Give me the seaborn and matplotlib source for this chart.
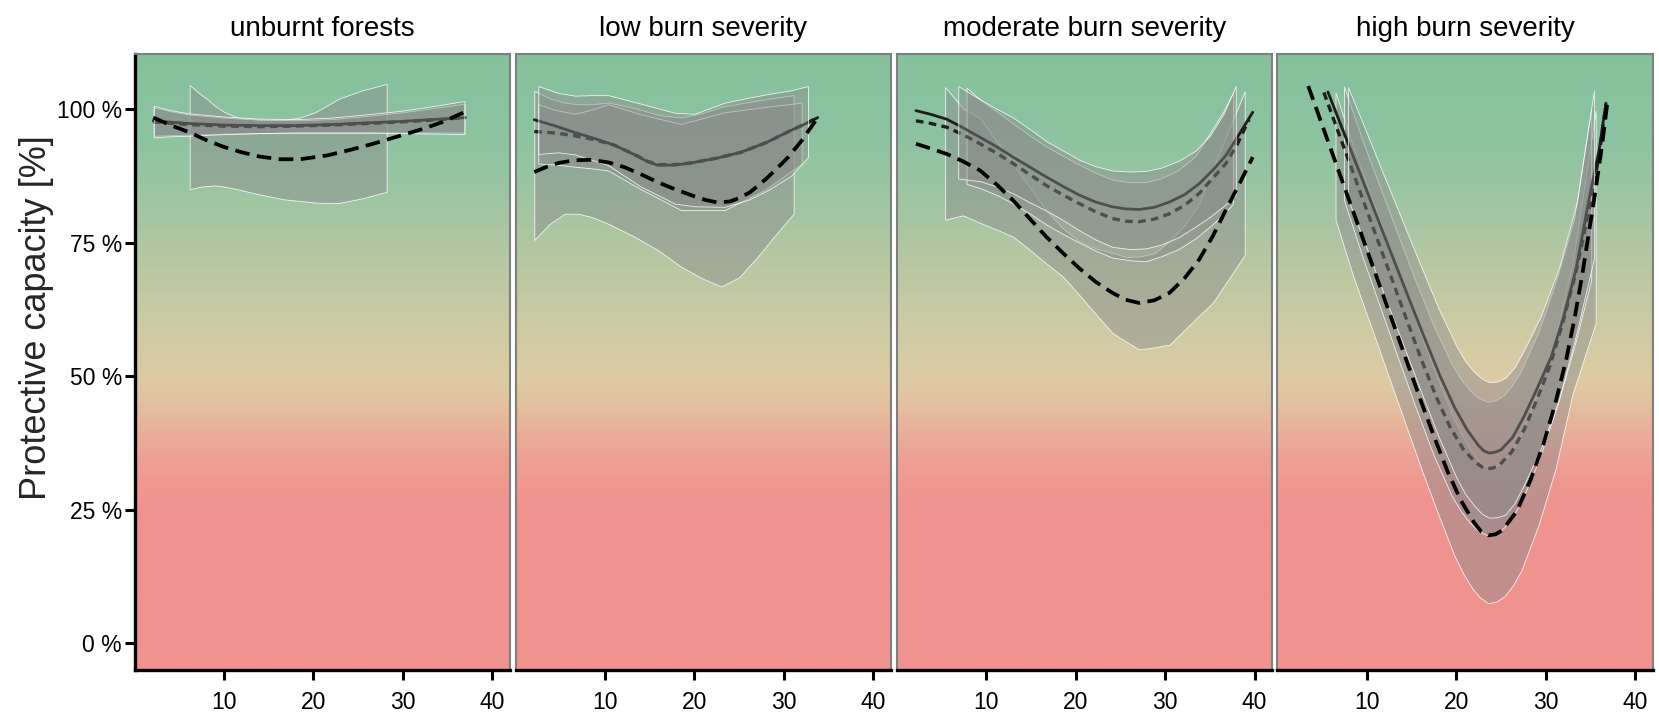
import numpy as np
import pandas as pd
import matplotlib
matplotlib.use("Agg")
import matplotlib.pyplot as plt
import seaborn as sns
from matplotlib.colors import LinearSegmentedColormap

# ---------------- data ----------------
titles = ["unburnt forests", "low burn severity", "moderate burn severity", "high burn severity"]
y_ticks = [0, 25, 50, 75, 100]
y_tick_labels = ["0 %", "25 %", "50 %", "75 %", "100 %"]
x_ticks = [10, 20, 30, 40]
y_label = "Protective capacity [%]"

# unburnt forests
unb_solid_x = [2.1, 6, 10, 14, 18, 22, 26, 30, 34, 37.0]
unb_solid_y = [97.8, 97.3, 97.0, 96.9, 96.9, 97.1, 97.4, 97.7, 98.1, 98.4]
unb_dot_x = [2.1, 6, 10, 14, 18, 22, 26, 30, 34, 37.0]
unb_dot_y = [97.6, 97.1, 96.8, 96.7, 96.8, 97.0, 97.3, 97.6, 98.0, 98.4]
unb_dash_x = [2.1, 4, 6.2, 8, 10, 12, 14, 16.3, 18.5, 21.5, 24, 26.7, 29.5, 32.3, 34.5, 37.0]
unb_dash_y = [98.4, 97.0, 95.6, 94.2, 92.9, 91.9, 91.1, 90.6, 90.6, 91.3, 92.3, 93.5, 94.9, 96.3, 97.6, 99.5]
unb_rib_solid_x = [2.15, 4, 6, 10, 14, 18, 22, 26, 30, 34, 36.9]
unb_rib_solid_lo = [94.7, 94.9, 95.0, 95.3, 95.5, 95.6, 95.6, 95.6, 95.5, 95.4, 95.3]
unb_rib_solid_hi = [100.6, 99.8, 99.2, 98.6, 98.2, 98.1, 98.4, 99.0, 99.7, 100.7, 101.5]
unb_rib_dot_x = [2.15, 4, 6, 10, 14, 18, 22, 26, 30, 34, 36.9]
unb_rib_dot_lo = [95.0, 95.1, 95.2, 95.4, 95.5, 95.6, 95.6, 95.6, 95.6, 95.6, 95.6]
unb_rib_dot_hi = [100.3, 99.6, 99.0, 98.4, 98.0, 97.9, 98.1, 98.7, 99.4, 100.3, 101.0]
unb_rib_dash_x = [6.17, 7.2, 8.1, 9.0, 10, 11.5, 14, 16.7, 18.5, 20.2, 21.5, 22.8, 25.5, 28.2]
unb_rib_dash_lo = [85.0, 85.4, 85.6, 85.7, 85.5, 85.0, 84.0, 83.1, 82.8, 82.5, 82.4, 82.4, 83.3, 84.5]
unb_rib_dash_hi = [104.5, 103.0, 101.9, 100.6, 99.5, 98.4, 98.0, 97.9, 98.4, 99.4, 100.6, 101.9, 103.5, 104.7]

# low burn severity
low_solid_x = [2.09, 4.5, 6.63, 9, 11.1, 13.5, 14.8, 15.9, 17.8, 19.6, 22.5, 25.2, 28, 30.8, 32.5, 33.8]
low_solid_y = [98.0, 96.8, 95.6, 94.4, 93.2, 91.3, 90.1, 89.5, 89.5, 89.9, 90.8, 91.9, 93.7, 96.0, 97.3, 98.4]
low_dot_x = [2.09, 4.5, 6.63, 9, 11.1, 13.5, 14.8, 15.9, 17.8, 19.6, 22.5, 25.2, 28, 30.8, 32.5, 33.8]
low_dot_y = [95.8, 95.5, 95.0, 94.2, 93.2, 91.3, 90.2, 89.6, 89.6, 89.9, 90.8, 91.9, 93.7, 96.0, 97.3, 98.4]
low_dash_x = [2.09, 3.5, 4.8, 6.5, 8.5, 10.4, 12.2, 14.0, 15.9, 17.8, 19.6, 21.2, 22.6, 24.0, 25.2, 26.2, 27, 28, 29, 30.5, 32, 33.8]
low_dash_y = [88.2, 89.2, 89.9, 90.4, 90.5, 90.0, 89.1, 87.8, 86.3, 85.0, 83.9, 83.0, 82.5, 82.7, 83.5, 84.4, 85.5, 86.9, 88.5, 91.0, 94.1, 98.4]
low_rib_solid_x = [2.54, 4.77, 6.63, 8.5, 10.35, 14, 17.8, 20, 23.4, 26, 28.2, 30.8, 32.7]
low_rib_solid_lo = [91.6, 91.9, 91.5, 90.5, 89.5, 85.5, 82.3, 81.8, 81.7, 83.0, 84.8, 87.5, 91.0]
low_rib_solid_hi = [104.3, 103.0, 102.5, 102.6, 102.6, 101.0, 99.3, 99.1, 101.2, 102.1, 102.8, 103.5, 104.3]
low_rib_dot_x = [2.54, 4.5, 6.63, 8.5, 10.35, 14, 18.5, 23.4, 28, 32.0]
low_rib_dot_lo = [89.8, 89.6, 89.2, 88.9, 88.5, 85.0, 81.1, 81.1, 85.0, 89.8]
low_rib_dot_hi = [100.9, 99.8, 99.1, 99.9, 100.9, 99.0, 97.2, 99.4, 100.4, 101.2]
low_rib_dash_x = [2.09, 3.8, 5.5, 7.0, 8.5, 10.4, 13.3, 16, 18.5, 21, 23.0, 25, 27.1, 29, 31.1]
low_rib_dash_lo = [75.5, 78.5, 80.4, 80.4, 79.8, 78.5, 76.1, 73.5, 70.5, 68.2, 66.8, 68.5, 72.4, 76.3, 80.4]
low_rib_dash_hi = [103.4, 102.0, 101.2, 100.9, 100.9, 101.2, 100.2, 98.9, 98.4, 99.3, 100.4, 101.0, 101.6, 102.1, 102.6]

# moderate burn severity
mod_solid_x = [2.13, 3.8, 5.56, 7.4, 9.3, 11.2, 13.0, 14.9, 16.7, 18.6, 20.4, 22.2, 24.1, 25.6, 27.1, 28.8, 30.5, 32.2, 33.8, 35.3, 36.8, 38.3, 39.8]
mod_solid_y = [99.7, 99.0, 98.1, 96.5, 94.7, 92.9, 91.0, 89.1, 87.3, 85.5, 83.9, 82.6, 81.7, 81.3, 81.2, 81.6, 82.6, 84.0, 86.0, 88.5, 91.3, 95.3, 99.4]
mod_dot_x = [2.13, 3.8, 5.56, 7.4, 9.3, 11.2, 13.0, 14.9, 16.7, 18.6, 20.4, 22.2, 24.1, 25.6, 27.1, 28.8, 30.5, 32.2, 33.8, 35.3, 36.8, 38.1, 39.4]
mod_dot_y = [97.8, 97.3, 96.6, 95.2, 93.5, 91.7, 89.8, 87.7, 85.7, 83.9, 82.3, 80.8, 79.5, 79.0, 78.9, 79.4, 80.4, 82.0, 84.2, 87.0, 89.8, 93.5, 98.1]
mod_dash_x = [2.13, 3.8, 5.56, 7.4, 9.3, 11.2, 13.0, 14.9, 16.7, 18.6, 20.4, 22.2, 24.1, 25.6, 27.1, 28.8, 30.5, 32.2, 33.8, 35.3, 36.8, 38.3, 39.8]
mod_dash_y = [93.5, 92.6, 91.6, 90.2, 88.5, 85.8, 82.9, 79.4, 76.1, 73.0, 70.2, 67.7, 65.6, 64.3, 63.7, 64.2, 65.6, 68.4, 71.8, 76.1, 81.1, 86.0, 91.0]
mod_rib_solid_x = [6.86, 9.3, 11.2, 13.0, 14.9, 16.7, 18.6, 20.4, 22.2, 24.1, 26, 27.8, 29.5, 31.5, 33.4, 35, 36.5, 37.9]
mod_rib_solid_lo = [87.0, 86.5, 85.5, 84.2, 82.5, 81.0, 79.2, 77.3, 75.6, 74.2, 73.8, 73.9, 74.6, 76.0, 78.0, 79.8, 81.8, 83.9]
mod_rib_solid_hi = [104.3, 101.8, 100.0, 98.4, 96.2, 94.0, 92.2, 90.5, 89.3, 88.5, 88.3, 88.4, 89.0, 90.3, 92.2, 95.0, 99.0, 104.3]
mod_rib_dot_x = [7.79, 9.3, 11.2, 13.0, 14.9, 16.7, 18.6, 20.4, 22.2, 24.1, 26, 27.8, 29.5, 31.5, 33.4, 35, 36.5, 37.6]
mod_rib_dot_lo = [86.0, 85.2, 83.9, 82.3, 80.4, 78.4, 76.6, 75.0, 73.5, 72.2, 71.7, 71.5, 72.4, 73.8, 75.8, 78.0, 80.2, 82.3]
mod_rib_dot_hi = [104.0, 101.8, 99.5, 97.3, 95.0, 93.0, 91.2, 89.6, 88.1, 86.8, 86.3, 86.3, 87.0, 88.6, 91.2, 95.5, 99.5, 103.1]
mod_rib_dash_x = [5.4, 7.4, 9.3, 11.2, 13.0, 14.9, 16.7, 18.6, 20.4, 22.2, 24.1, 25.6, 27.1, 28.8, 30.5, 32.2, 33.8, 35.3, 36.8, 38.9]
mod_rib_dash_lo = [79.3, 80.1, 78.7, 77.4, 76.1, 73.6, 71.1, 68.6, 65.2, 61.7, 58.1, 56.5, 55.0, 55.4, 55.9, 58.7, 61.3, 63.7, 67.4, 72.7]
mod_rib_dash_hi = [104.1, 100.1, 98.3, 93.8, 89.7, 85.2, 81.1, 77.6, 75.2, 73.9, 73.1, 72.3, 72.4, 73.0, 75.3, 78.3, 82.3, 88.5, 94.8, 103.3]

# high burn severity
high_solid_x = [5.65, 7.5, 9.2, 11, 12.8, 14.6, 16.4, 18.2, 19.8, 21.2, 22.5, 23.1, 23.7, 24.4, 25.0, 26.3, 27.6, 29.0, 30.6, 32.0, 33.4, 34.9, 36.0, 36.75]
high_solid_y = [103.2, 95.3, 88.1, 80.4, 72.7, 65.0, 57.4, 50.0, 44.2, 40.0, 37.0, 36.0, 35.6, 35.8, 36.2, 38.5, 42.5, 47.5, 53.5, 61.0, 70.0, 83.5, 92.5, 101.1]
high_dot_x = [5.2, 7, 8.3, 9.7, 11.1, 12.6, 14.3, 16.1, 17.8, 19.3, 20.8, 22.2, 22.9, 23.5, 24.1, 24.8, 26.2, 27.6, 29.0, 30.5, 32.0, 33.4, 34.9, 36.0, 36.75]
high_dot_y = [103.1, 94.8, 88.9, 82.4, 76.0, 69.1, 61.3, 53.1, 46.0, 40.5, 36.3, 33.8, 33.0, 32.7, 32.8, 33.3, 35.8, 40.0, 45.5, 52.0, 60.5, 69.5, 81.5, 91.5, 101.0]
high_dash_x = [3.45, 5.2, 7.0, 8.5, 10.0, 11.5, 13.0, 14.4, 16.0, 17.5, 19.0, 20.5, 22.0, 22.8, 23.6, 24.4, 25.2, 26.8, 28.3, 29.8, 31.1, 32.3, 33.2, 34.1, 34.9, 35.6, 36.3, 36.9]
high_dash_y = [104.3, 96.1, 87.7, 80.7, 73.7, 66.7, 59.7, 53.1, 45.6, 38.8, 32.3, 26.8, 22.6, 20.9, 20.2, 20.4, 21.2, 24.8, 30.5, 37.5, 45.0, 53.1, 60.5, 69.0, 77.5, 85.0, 93.0, 101.1]
high_rib_solid_x = [7.9, 10, 12, 14, 16, 18, 20, 21, 22, 22.9, 23.7, 24.6, 25.5, 26.5, 27.5, 29.5, 31.5, 33.5, 35.4]
high_rib_solid_lo = [83.1, 73.9, 65.0, 56.2, 47.4, 38.8, 31.1, 28.0, 25.8, 24.2, 23.5, 23.6, 24.1, 26.2, 29.4, 36.6, 45.7, 58.4, 72.0]
high_rib_solid_hi = [104.1, 95.5, 87.2, 79.0, 70.8, 62.8, 55.7, 52.8, 50.8, 49.5, 48.9, 49.0, 49.7, 51.6, 54.6, 61.4, 70.3, 82.6, 103.4]
high_rib_dot_x = [7.45, 9.5, 11.5, 13.5, 15.5, 17.5, 19.5, 20.5, 21.5, 22.5, 23.5, 24.4, 25.3, 26.2, 27.2, 29.2, 31.2, 33.2, 35.1]
high_rib_dot_lo = [83.0, 72.4, 62.9, 53.4, 44.0, 35.1, 27.6, 24.8, 22.6, 21.0, 20.2, 20.5, 21.6, 23.5, 26.2, 34.1, 44.0, 55.5, 68.0]
high_rib_dot_hi = [104.2, 94.2, 85.3, 76.4, 67.6, 59.3, 52.2, 49.5, 47.4, 45.9, 45.2, 45.5, 46.4, 48.2, 50.8, 58.3, 68.0, 79.5, 100.0]
high_rib_dash_x = [6.5, 8.5, 10.5, 12.5, 14.4, 16.2, 18.0, 19.8, 20.8, 21.8, 22.7, 23.6, 24.5, 25.4, 26.4, 27.3, 29.2, 31.1, 33.0, 35.6]
high_rib_dash_lo = [79.3, 68.6, 59.2, 49.7, 40.7, 32.2, 24.1, 16.4, 13.0, 10.3, 8.5, 7.5, 7.8, 8.8, 11.0, 13.7, 22.1, 32.6, 46.6, 60.0]
high_rib_dash_hi = [103.1, 92.8, 83.6, 74.3, 65.5, 57.2, 49.3, 41.8, 38.4, 35.7, 33.8, 32.9, 33.2, 34.2, 36.4, 39.1, 47.3, 57.4, 71.0, 99.7]

# background gradient stops (value in %, colour)
bg_stop_values = [-5, 25, 30, 35, 40, 45, 50, 55, 62, 70, 78, 86, 95, 110.3]
bg_stop_colors = ["#F0938E", "#F0938E", "#EF9890", "#ECA295", "#E8B19B", "#E2C1A0", "#DCCCA5",
                  "#D3CBA4", "#C8CAA4", "#BAC8A3", "#A9C6A2", "#9AC5A1", "#8DC3A0", "#86C19E"]

# ---------------- assemble ----------------
def lines_df(prefix):
    g = globals()
    frames = []
    for kind in ["solid", "dot", "dash"]:
        frames.append(pd.DataFrame({"x": g[f"{prefix}_{kind}_x"], "y": g[f"{prefix}_{kind}_y"], "kind": kind}))
    return pd.concat(frames, ignore_index=True)

def ribbon(prefix, kind):
    g = globals()
    return g[f"{prefix}_rib_{kind}_x"], g[f"{prefix}_rib_{kind}_lo"], g[f"{prefix}_rib_{kind}_hi"]

prefixes = ["unb", "low", "mod", "high"]

sns.set_theme(style="white")
plt.rcParams["font.family"] = ["Liberation Sans", "DejaVu Sans"]

W, H = 1659, 720
fig = plt.figure(figsize=(W / 100, H / 100), dpi=100)

XLIM = (0, 42)
YLIM = (-5, 110.3)
lefts_px = [134.5, 515.6, 896.9, 1277.4]
width_px = 375.5
bottom_px = 670
height_px = 616

vals = np.array(bg_stop_values, dtype=float)
pos = (vals - YLIM[0]) / (YLIM[1] - YLIM[0])
cmap = LinearSegmentedColormap.from_list("bg", list(zip(pos, bg_stop_colors)))
grad = np.linspace(0, 1, 600).reshape(-1, 1)

line_style = {
    "solid": dict(color="#1e1e1e", lw=2.0, ls="-", z=2.2),
    "dot": dict(color="#1e1e1e", lw=2.4, ls=(0, (2.3, 1.6)), z=2.1),
    "dash": dict(color="#000000", lw=2.7, ls=(0, (3.9, 2.0)), z=3.0),
}
ribbon_z = {"dash": 1.8, "dot": 1.9, "solid": 2.5}
rib_face = (0.54, 0.54, 0.54, 0.45)
rib_edge = (1, 1, 1, 0.85)

for i, (prefix, title) in enumerate(zip(prefixes, titles)):
    ax = fig.add_axes([lefts_px[i] / W, (H - bottom_px) / H, width_px / W, height_px / H])
    ax.imshow(grad, extent=[XLIM[0], XLIM[1], YLIM[0], YLIM[1]], origin="lower",
              aspect="auto", cmap=cmap, zorder=0, interpolation="bilinear")

    df = lines_df(prefix)
    for kind in ["solid", "dot", "dash"]:
        st = line_style[kind]
        sub = df[df["kind"] == kind]
        sns.lineplot(data=sub, x="x", y="y", ax=ax, color=st["color"], linewidth=st["lw"],
                     sort=False, estimator=None, zorder=st["z"], legend=False)
        ln = ax.lines[-1]
        ln.set_linestyle(st["ls"])
        ln.set_dash_capstyle("butt")
        ln.set_solid_capstyle("round")
        ln.set_solid_joinstyle("round")

    for kind in ["dash", "dot", "solid"]:
        rx, rlo, rhi = ribbon(prefix, kind)
        ax.fill_between(rx, rlo, rhi, facecolor=rib_face, edgecolor=rib_edge,
                        linewidth=0.6, zorder=ribbon_z[kind])

    ax.set_xlim(*XLIM)
    ax.set_ylim(*YLIM)
    ax.set_xticks(x_ticks)
    ax.set_xticklabels([str(t) for t in x_ticks])
    ax.set_xlabel("")
    ax.set_ylabel("")
    ax.set_title(title, fontsize=20, pad=13, color="black")

    for side in ["top", "right", "left"]:
        ax.spines[side].set_color("#7f7f7f")
        ax.spines[side].set_linewidth(1.5)
        ax.spines[side].set_visible(True)
    ax.spines["bottom"].set_color("black")
    ax.spines["bottom"].set_linewidth(2.4)
    ax.spines["bottom"].set_visible(True)
    ax.tick_params(axis="x", bottom=True, length=7, width=2.2, color="black",
                   labelsize=16.5, pad=8, labelcolor="black")
    if i == 0:
        ax.spines["left"].set_color("black")
        ax.spines["left"].set_linewidth(2.4)
        ax.set_yticks(y_ticks)
        ax.set_yticklabels(y_tick_labels)
        ax.tick_params(axis="y", left=True, length=7, width=2.2, color="black",
                       labelsize=16.5, pad=2, labelcolor="black")
    else:
        ax.set_yticks(y_ticks)
        ax.tick_params(axis="y", left=False, labelleft=False)
    ax.grid(False)

fig.text(36.5 / W, 1 - 318 / H, y_label, rotation=90, ha="center", va="center", fontsize=26)

fig.savefig("out.png", dpi=100)
